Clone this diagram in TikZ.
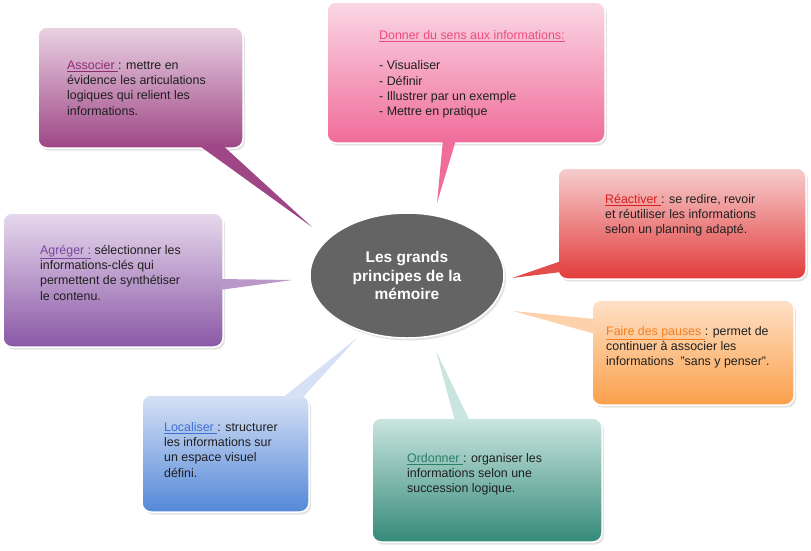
\documentclass[tikz,border=0pt]{standalone}
\usepackage{fontspec}
\setmainfont{Liberation Sans}
\usetikzlibrary{shapes.geometric,shadows}

\definecolor{assoctop}{HTML}{EAD2E3}
\definecolor{assocbot}{HTML}{9E4686}
\definecolor{assockey}{HTML}{8B2D72}
\definecolor{senstop}{HTML}{FAD8E5}
\definecolor{sensbot}{HTML}{F06C9A}
\definecolor{senskey}{HTML}{EC4C82}
\definecolor{reacttop}{HTML}{F7CECE}
\definecolor{reactbot}{HTML}{E23B3B}
\definecolor{reactkey}{HTML}{D81E1E}
\definecolor{pausetop}{HTML}{FEE1C8}
\definecolor{pausebot}{HTML}{FBA04A}
\definecolor{pausekey}{HTML}{F57F1E}
\definecolor{agregtop}{HTML}{E7D9ED}
\definecolor{agregbot}{HTML}{8A58A6}
\definecolor{agregkey}{HTML}{7B46A0}
\definecolor{localtop}{HTML}{D6E1F5}
\definecolor{localbot}{HTML}{5488D8}
\definecolor{localkey}{HTML}{3D70D2}
\definecolor{ordretop}{HTML}{CAE5DF}
\definecolor{ordrebot}{HTML}{348A79}
\definecolor{ordrekey}{HTML}{2A7F66}
\definecolor{memofill}{HTML}{646464}

\begin{document}
\begin{tikzpicture}[x=1pt, y=-1pt,
  box/.style={rectangle, rounded corners=9pt, draw=white, line width=1.5pt,
    drop shadow={opacity=0.22, shadow xshift=2pt, shadow yshift=-2.5pt}},
  txt/.style={anchor=north west, inner sep=0pt, align=left, text=black!88,
    font=\fontsize{12.4}{15.3}\selectfont}]

\useasboundingbox (0,0) rectangle (811,550);

% the seven callouts

\node[box, top color=assoctop, bottom color=assocbot, minimum width=205pt, minimum height=121pt] (assoc) at (140.5,87.5) {};
\node[box, top color=senstop, bottom color=sensbot, minimum width=278pt, minimum height=141pt] (sens) at (466,72.5) {};
\node[box, top color=reacttop, bottom color=reactbot, minimum width=248pt, minimum height=111pt] (react) at (682,223.5) {};
\node[box, top color=pausetop, bottom color=pausebot, minimum width=202pt, minimum height=105pt] (pause) at (693,352.5) {};
\node[box, top color=agregtop, bottom color=agregbot, minimum width=220pt, minimum height=134pt] (agreg) at (113,280) {};
\node[box, top color=localtop, bottom color=localbot, minimum width=167pt, minimum height=117pt] (local) at (225.5,453.5) {};
\node[box, top color=ordretop, bottom color=ordrebot, minimum width=230pt, minimum height=124pt] (ordre) at (487,480) {};

% pointer tips

\coordinate (assoc-tip) at (312,227);
\coordinate (sens-tip) at (437,203);
\coordinate (react-tip) at (512,278);
\coordinate (pause-tip) at (513,311);
\coordinate (agreg-tip) at (292,280);
\coordinate (local-tip) at (357,338);
\coordinate (ordre-tip) at (436,351);

% pointers

\fill[assocbot] ([xshift=57.5pt,yshift=4pt]assoc.south) -- (assoc-tip) -- ([xshift=81.5pt,yshift=4pt]assoc.south) -- cycle;
\fill[sensbot] ([xshift=-23pt,yshift=4pt]sens.south) -- (sens-tip) -- ([xshift=-10pt,yshift=4pt]sens.south) -- cycle;
\fill[reactbot!88!reacttop] ([xshift=4pt,yshift=-37.5pt]react.west) -- (react-tip) -- ([xshift=4pt,yshift=-48.5pt]react.west) -- cycle;
\fill[pausebot!25!pausetop] ([xshift=4pt,yshift=33.5pt]pause.west) -- (pause-tip) -- ([xshift=4pt,yshift=18.5pt]pause.west) -- cycle;
\fill[agregbot!50!agregtop] ([xshift=-4pt,yshift=1pt]agreg.east) -- (agreg-tip) -- ([xshift=-4pt,yshift=-10pt]agreg.east) -- cycle;
\fill[localtop] ([xshift=56.5pt,yshift=-4pt]local.north) -- (local-tip) -- ([xshift=76.5pt,yshift=-4pt]local.north) -- cycle;
\fill[ordretop] ([xshift=-32pt,yshift=-4pt]ordre.north) -- (ordre-tip) -- ([xshift=-17pt,yshift=-4pt]ordre.north) -- cycle;

% texts

\node[txt] (assoc-txt) at (67,60) {\textcolor{assockey}{\underline{Associer\ }}: mettre en\\ évidence les articulations\\ logiques qui relient les\\ informations.};
\node[txt] (sens-txt) at (379,30) {\textcolor{senskey}{\underline{Donner du sens aux informations:}}\\[15.3pt] - Visualiser\\ - Définir\\ - Illustrer par un exemple\\ - Mettre en pratique};
\node[txt] (react-txt) at (605,194) {\textcolor{reactkey}{\underline{Réactiver\ }}: se redire, revoir\\ et réutiliser les informations\\ selon un planning adapté.};
\node[txt] (pause-txt) at (606,326) {\textcolor{pausekey}{\underline{Faire des pauses\ }}: permet de\\ continuer à associer les\\ informations\ \ "sans y penser".};
\node[txt] (agreg-txt) at (40,245) {\textcolor{agregkey}{\underline{Agréger :}} sélectionner les\\ informations-clés qui\\ permettent de synthétiser\\ le contenu.};
\node[txt] (local-txt) at (164,422) {\textcolor{localkey}{\underline{Localiser\ }}: structurer\\ les informations sur\\ un espace visuel\\ défini.};
\node[txt] (ordre-txt) at (407,453) {\textcolor{ordrekey}{\underline{Ordonner\ }}: organiser les\\ informations selon une\\ succession logique.};

% centre

\node[ellipse, fill=memofill, draw=white, line width=1.5pt, minimum width=194pt, minimum height=125pt,
  drop shadow={opacity=0.22, shadow xshift=2pt, shadow yshift=-2.5pt},
  text=white, align=center, font=\bfseries\fontsize{15.5}{18.5}\selectfont] (memo) at (407,275.5) {Les grands\\ principes de la\\ mémoire};

\end{tikzpicture}
\end{document}
